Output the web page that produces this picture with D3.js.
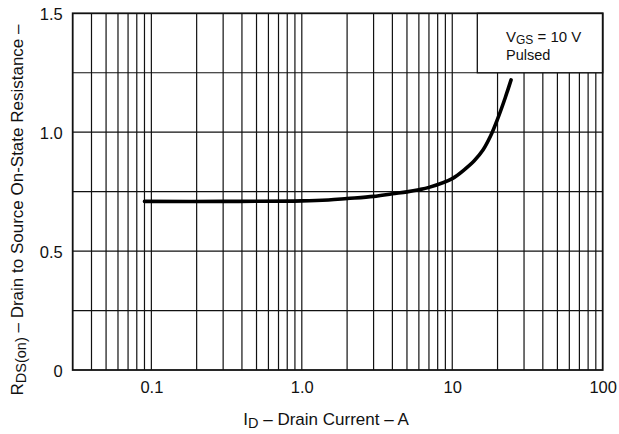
<!DOCTYPE html>
<html>
<head>
<meta charset="utf-8">
<script src="https://cdn.jsdelivr.net/npm/d3@7"></script>
<style>
  html, body { margin: 0; padding: 0; background: #fff; }
  svg { display: block; font-family: "Liberation Sans", Arial, sans-serif; }
</style>
</head>
<body>
<svg id="chart" width="619" height="434"></svg>
<script>
// ---- data ----
const currentA = [0.09, 0.3, 1.0, 1.5, 2.0, 3.0, 4.0, 5.0, 6.0, 7.0, 10, 12, 14, 16, 18, 20, 22.5, 24.6];
const rdsOn    = [0.709, 0.709, 0.711, 0.715, 0.721, 0.73, 0.741, 0.749, 0.758, 0.768, 0.805, 0.842, 0.88, 0.925, 0.985, 1.055, 1.145, 1.22];

const xTickValues = [0.1, 1, 10, 100];
const xTickLabels = ["0.1", "1.0", "10", "100"];
const yTickValues = [0, 0.5, 1.0, 1.5];
const yTickLabels = ["0", "0.5", "1.0", "1.5"];
const yGridValues = [0.25, 0.5, 0.75, 1.0, 1.25];
const xDomain = [0.03, 100];
const yDomain = [0, 1.5];

(function () {
// ---- layout ----
const svg = d3.select("#chart");
const mLeft = 72.7, mRight = 602.7, mTop = 13.3, mBottom = 370;

const x = d3.scaleLog().domain(xDomain).range([mLeft, mRight]);
const y = d3.scaleLinear().domain(yDomain).range([mBottom, mTop]);

// vertical grid lines (log minor grid)
const xGrid = [];
for (let dec = 0.01; dec < 100; dec *= 10) {
  for (let m = 1; m <= 9; m++) {
    const v = +(dec * m).toPrecision(3);
    if (v > xDomain[0] && v < xDomain[1]) xGrid.push(v);
  }
}
svg.append("g").selectAll("line").data(xGrid).join("line")
  .attr("x1", d => x(d)).attr("x2", d => x(d))
  .attr("y1", mTop).attr("y2", mBottom)
  .attr("stroke", "#111").attr("stroke-width", 1.2);

svg.append("g").selectAll("line").data(yGridValues).join("line")
  .attr("x1", mLeft).attr("x2", mRight)
  .attr("y1", d => y(d)).attr("y2", d => y(d))
  .attr("stroke", "#111").attr("stroke-width", 1.2);

// legend box (covers the grid)
const boxLeft = 477.3;
svg.append("rect")
  .attr("x", boxLeft).attr("y", mTop)
  .attr("width", mRight - boxLeft).attr("height", y(1.25) - mTop)
  .attr("fill", "#fff").attr("stroke", "#111").attr("stroke-width", 1.3);

const leg = svg.append("text").attr("x", 506).attr("y", 42)
  .attr("font-size", 15).attr("fill", "#111");
leg.append("tspan").text("V");
leg.append("tspan").attr("dy", 2).attr("font-size", 12).text("GS");
leg.append("tspan").attr("dy", -2).text(" = 10 V");
svg.append("text").attr("x", 506).attr("y", 60)
  .attr("font-size", 14.5).attr("fill", "#111").text("Pulsed");

// frame
svg.append("rect")
  .attr("x", mLeft).attr("y", mTop)
  .attr("width", mRight - mLeft).attr("height", mBottom - mTop)
  .attr("fill", "none").attr("stroke", "#111").attr("stroke-width", 1.8);

// curve
const line = d3.line()
  .x((d, i) => x(currentA[i]))
  .y((d, i) => y(rdsOn[i]))
  .curve(d3.curveCatmullRom.alpha(0.5));
svg.append("path")
  .datum(currentA)
  .attr("d", line)
  .attr("fill", "none").attr("stroke", "#000").attr("stroke-width", 3.6)
  .attr("stroke-linecap", "round");

// axes
const xAxis = d3.axisBottom(x).tickValues(xTickValues)
  .tickFormat((d, i) => xTickLabels[i]).tickSize(0).tickPadding(11);
const gx = svg.append("g").attr("transform", `translate(0,${mBottom})`).call(xAxis);
gx.select(".domain").remove();
gx.selectAll("text").attr("font-size", 16.5).attr("fill", "#111")
  .attr("font-family", "Liberation Sans, Arial, sans-serif");

const yAxis = d3.axisLeft(y).tickValues(yTickValues)
  .tickFormat((d, i) => yTickLabels[i]).tickSize(0).tickPadding(10);
const gy = svg.append("g").attr("transform", `translate(${mLeft},0)`).call(yAxis);
gy.select(".domain").remove();
gy.selectAll("text").attr("font-size", 16.5).attr("fill", "#111")
  .attr("dy", "0.4em")
  .attr("font-family", "Liberation Sans, Arial, sans-serif");

// axis titles
const xt = svg.append("text").attr("x", 326).attr("y", 425)
  .attr("text-anchor", "middle").attr("font-size", 17).attr("fill", "#111");
xt.append("tspan").text("I");
xt.append("tspan").attr("dy", 3).attr("font-size", 14.5).text("D");
xt.append("tspan").attr("dy", -3).text(" \u2013 Drain Current \u2013 A");

const yt = svg.append("text")
  .attr("transform", "translate(23,210) rotate(-90)")
  .attr("text-anchor", "middle").attr("font-size", 17).attr("fill", "#111");
yt.append("tspan").text("R");
yt.append("tspan").attr("dy", 3).attr("font-size", 14.5).text("DS(on)");
yt.append("tspan").attr("dy", -3).text(" \u2013 Drain to Source On-State Resistance \u2013");
})();
</script>
</body>
</html>
